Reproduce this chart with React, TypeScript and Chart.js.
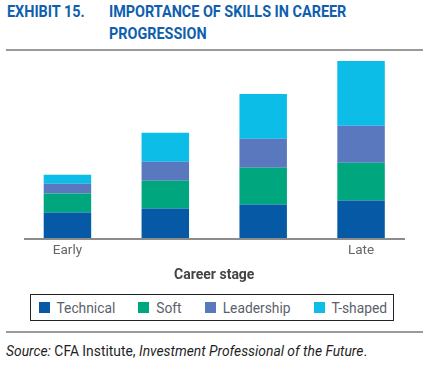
import React, { useEffect, useRef } from "react";
import { Chart, registerables } from "chart.js";

Chart.register(...registerables);

const categories = ["Early", "", "", "Late"];
const technical = [25.5, 29.5, 33.5, 37.5];
const soft = [19, 28, 37, 38];
const leadership = [10, 19, 29, 37];
const tShaped = [9, 29, 45, 65];
const seriesNames = ["Technical", "Soft", "Leadership", "T-shaped"];
const seriesColors = ["#0559A5", "#00A67D", "#5A78BE", "#0BBDE7"];
const yMax = 180;

const FONT = "Roboto, 'Liberation Sans', Arial, sans-serif";

const baselinePlugin = {
  id: "baseline",
  afterDatasetsDraw(chart: any) {
    const { ctx, chartArea } = chart;
    const y = chart.scales.y.getPixelForValue(0) + 1;
    ctx.save();
    ctx.strokeStyle = "#8c8c8c";
    ctx.lineWidth = 2;
    ctx.beginPath();
    ctx.moveTo(chartArea.left + 5.5, y);
    ctx.lineTo(chartArea.right - 5, y);
    ctx.stroke();
    ctx.restore();
  },
};

function ChartCanvas() {
  const ref = useRef<HTMLCanvasElement | null>(null);
  useEffect(() => {
    if (!ref.current) return;
    const values = [technical, soft, leadership, tShaped];
    const chart = new Chart(ref.current, {
      type: "bar",
      data: {
        labels: categories,
        datasets: seriesNames.map((name, i) => ({
          label: name,
          data: values[i],
          backgroundColor: seriesColors[i],
          borderWidth: 0,
          barPercentage: 0.485,
          categoryPercentage: 1,
        })),
      },
      options: {
        animation: false,
        responsive: false,
        devicePixelRatio: 1,
        layout: { padding: { left: 18.5, right: 19, top: 3.5, bottom: 0 } },
        plugins: { legend: { display: false }, tooltip: { enabled: false } },
        scales: {
          x: {
            stacked: true,
            grid: { display: false, drawTicks: false },
            border: { display: false },
            ticks: {
              color: "#666666",
              font: { family: FONT, size: 13.5 },
              padding: 5,
              autoSkip: false,
              maxRotation: 0,
            },
            title: {
              display: true,
              text: "Career stage",
              color: "#444444",
              font: { family: FONT, size: 14, weight: "bold" },
              padding: { top: 3, bottom: 0 },
            },
          },
          y: { stacked: true, display: false, min: 0, max: yMax },
        },
      },
      plugins: [baselinePlugin],
    });
    return () => chart.destroy();
  }, []);
  return <canvas ref={ref} width={429} height={229} style={{ width: 429, height: 229, display: "block" }} />;
}

export default function App() {
  const titleStyle: React.CSSProperties = {
    position: "absolute",
    top: 1,
    fontSize: 16,
    lineHeight: "21.7px",
    fontWeight: 700,
    color: "#0F5FAE",
    transform: "scaleX(0.9)",
    transformOrigin: "left top",
    whiteSpace: "nowrap",
  };
  return (
    <div style={{ position: "absolute", left: 0, top: 0, width: 429, height: 365, background: "#fff", fontFamily: FONT, overflow: "hidden" }}>
      <div style={{ ...titleStyle, left: 7 }}>EXHIBIT 15.</div>
      <div style={{ ...titleStyle, left: 109 }}>
        IMPORTANCE OF SKILLS IN CAREER
        <br />
        PROGRESSION
      </div>
      <div style={{ position: "absolute", left: 6, top: 49, width: 417, height: 2, background: "#9a9a9a" }} />
      <div style={{ position: "absolute", left: 0, top: 55 }}>
        <ChartCanvas />
      </div>
      <div
        style={{
          position: "absolute",
          left: 30,
          top: 294,
          width: 364,
          height: 27,
          boxSizing: "border-box",
          border: "1.5px solid #222",
          display: "flex",
          alignItems: "center",
          paddingLeft: 7.5,
          gap: 23,
        }}
      >
        {seriesNames.map((name, i) => (
          <div key={name} style={{ display: "flex", alignItems: "center", gap: 7 }}>
            <div style={{ width: 11, height: 11, background: seriesColors[i] }} />
            <span style={{ fontSize: 13.8, color: "#5b5f6b", lineHeight: "16px" }}>{name}</span>
          </div>
        ))}
      </div>
      <div style={{ position: "absolute", left: 6, top: 331, width: 417, height: 2, background: "#9a9a9a" }} />
      <div
        style={{
          position: "absolute",
          left: 6,
          top: 343,
          fontSize: 13.85,
          lineHeight: "16px",
          color: "#1f1f1f",
          whiteSpace: "nowrap",
        }}
      >
        <i>Source:</i> CFA Institute, <i>Investment Professional of the Future</i>.
      </div>
    </div>
  );
}
